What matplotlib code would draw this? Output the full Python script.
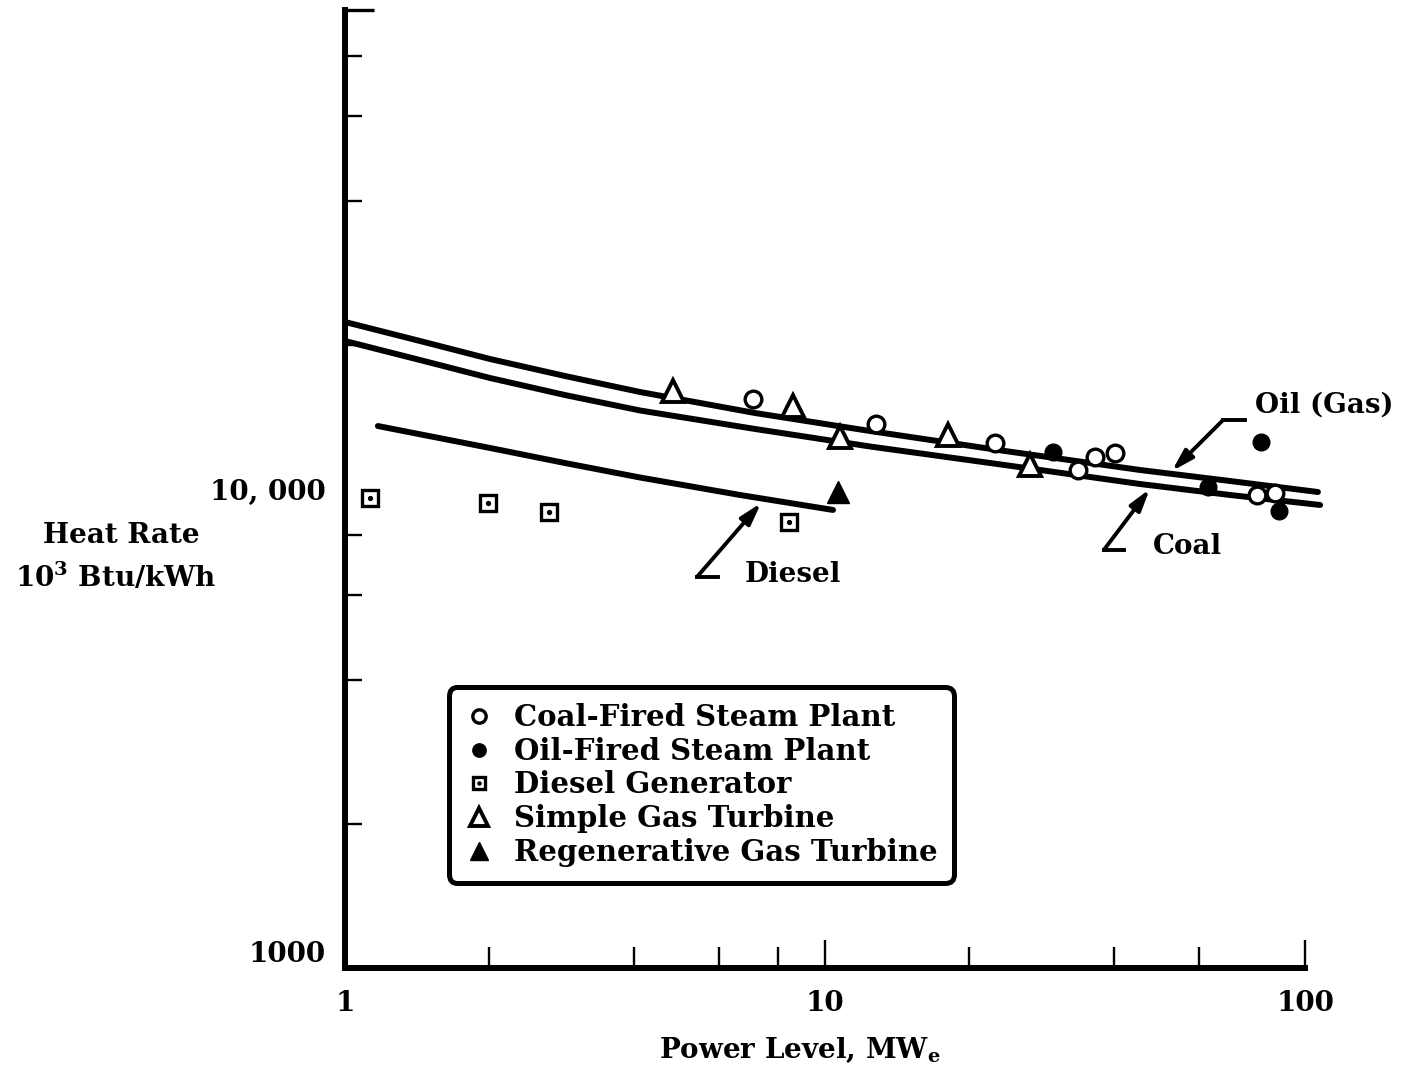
import matplotlib
matplotlib.use("Agg")
import matplotlib.pyplot as plt
from matplotlib.ticker import FixedLocator, FixedFormatter, NullFormatter

# ---------------- data ----------------
# fitted curves, MWe vs Btu/kWh
oil_curve_x = [1.0, 1.433, 2.005, 2.873, 4.118, 7.147, 12.41, 23.71, 45.32,
               69.8, 106.4]
oil_curve_y = [22320, 20370, 18680, 17215, 15940, 14410, 13215, 12005, 10957,
               10392, 9857]
coal_curve_x = [1.0, 1.433, 2.005, 2.873, 4.118, 7.147, 12.41, 23.71, 45.32,
                69.8, 107.5]
coal_curve_y = [20370, 18590, 17050, 15710, 14585, 13345, 12267, 11220, 10243,
                9716, 9261]
diesel_curve_x = [1.171, 2.005, 2.873, 4.118, 6.653, 10.39]
diesel_curve_y = [13535, 12180, 11330, 10568, 9716, 9042]

# plant data points
coal_plant_x = [7.08, 12.77, 22.6, 33.7, 36.5, 40.2, 79.4, 86.6]
coal_plant_y = [15410, 13670, 12470, 10960, 11660, 11890, 9716, 9808]
oil_plant_x = [29.9, 62.8, 81.0, 88.3]
oil_plant_y = [11946, 10097, 12535, 8995]
diesel_gen_x = [1.127, 1.986, 2.66, 8.41]
diesel_gen_y = [9576, 9350, 8955, 8535]
simple_gt_x = [4.83, 8.58, 10.75, 18.04, 26.7]
simple_gt_y = [16020, 14910, 12840, 12960, 11223]
regen_gt_x = [10.65]
regen_gt_y = [9856]

legend_labels = ["Coal-Fired Steam Plant", "Oil-Fired Steam Plant",
                 "Diesel Generator", "Simple Gas Turbine",
                 "Regenerative Gas Turbine"]

x_major = [1, 10, 100]
x_major_labels = ["1", "10", "100"]
x_minor = [2, 4, 6, 8, 20, 40, 60]
y_major = [1000, 10000]
y_major_labels = ["1000", "10, 000"]
y_minor = [2000, 4000, 6000, 8000, 20000, 40000, 60000, 80000, 100000]

# ---------------- figure ----------------
FONT = "DejaVu Serif"
plt.rcParams["font.family"] = FONT
plt.rcParams["font.weight"] = "bold"
plt.rcParams["mathtext.fontset"] = "custom"
plt.rcParams["mathtext.rm"] = "DejaVu Serif:bold"
plt.rcParams["mathtext.default"] = "rm"

fig = plt.figure(figsize=(14.2, 10.76), dpi=100)
ax = fig.add_axes([345 / 1420, 1 - 968 / 1076, 960 / 1420, 958 / 1076])
ax.set_xscale("log")
ax.set_yscale("log")
ax.set_xlim(1, 100)
ax.set_ylim(1000, 100000)

LW = 4.3
for cx, cy in [(oil_curve_x, oil_curve_y), (coal_curve_x, coal_curve_y),
               (diesel_curve_x, diesel_curve_y)]:
    ax.plot(cx, cy, color="black", lw=LW, solid_capstyle="round",
            solid_joinstyle="round", clip_on=False, zorder=2)

mk = dict(linestyle="none", clip_on=False, zorder=3)
h_coal, = ax.plot(coal_plant_x, coal_plant_y, marker="o", ms=12,
                  mfc="white", mec="black", mew=2.4, **mk)
h_oil, = ax.plot(oil_plant_x, oil_plant_y, marker="o", ms=12,
                 mfc="black", mec="black", **mk)
h_dsq, = ax.plot(diesel_gen_x, diesel_gen_y, marker="s", ms=11.5,
                 mfc="white", mec="black", mew=2.4, **mk)
h_ddot, = ax.plot(diesel_gen_x, diesel_gen_y, marker="o", ms=2.8,
                  mfc="black", mec="black", **mk)
h_sgt, = ax.plot(simple_gt_x, simple_gt_y, marker="^", ms=16,
                 mfc="white", mec="black", mew=2.8, **mk)
h_rgt, = ax.plot(regen_gt_x, regen_gt_y, marker="^", ms=16,
                 mfc="black", mec="black", **mk)

# ---------------- axes styling ----------------
for s in ["top", "right"]:
    ax.spines[s].set_visible(False)
for s in ["left", "bottom"]:
    ax.spines[s].set_linewidth(LW)
    ax.spines[s].set_capstyle("projecting")

ax.xaxis.set_major_locator(FixedLocator(x_major))
ax.xaxis.set_major_formatter(FixedFormatter(x_major_labels))
ax.xaxis.set_minor_locator(FixedLocator(x_minor))
ax.xaxis.set_minor_formatter(NullFormatter())
ax.yaxis.set_major_locator(FixedLocator(y_major))
ax.yaxis.set_major_formatter(FixedFormatter(y_major_labels))
ax.yaxis.set_minor_locator(FixedLocator(y_minor))
ax.yaxis.set_minor_formatter(NullFormatter())

ax.tick_params(axis="x", which="major", direction="in", length=20, width=1.7,
               pad=16, labelsize=20)
ax.tick_params(axis="x", which="minor", direction="in", length=15, width=1.7)
ax.tick_params(axis="y", which="major", direction="in", length=0, width=1.7,
               pad=14, labelsize=20)
ax.tick_params(axis="y", which="minor", direction="in", length=12, width=1.7)
fig.canvas.draw()
# longer cap tick at the top of the y axis
ax.yaxis.get_minor_ticks()[-1].tick1line.set_markersize(21)
ax.yaxis.get_minor_ticks()[-1].tick1line.set_markeredgewidth(2.4)
ax.get_yticklabels()[0].set_va("bottom")

# ---------------- axis titles ----------------
fig.text(800 / 1420, 1 - 1050 / 1076, r"Power Level, MW$_\mathregular{e}$",
         ha="center", va="center", fontsize=20)
fig.text(121 / 1420, 1 - 535 / 1076, "Heat Rate", ha="center", va="center",
         fontsize=20)
fig.text(116 / 1420, 1 - 577 / 1076, r"10$^\mathregular{3}$ Btu/kWh",
         ha="center", va="center", fontsize=20)

# ---------------- curve annotations ----------------
arrow = dict(arrowstyle="-|>,head_length=1.3,head_width=0.38", lw=2.8,
             color="black", shrinkA=0, shrinkB=0)
LLW = 2.8
# Oil (Gas)
ax.annotate("", xy=(52.8, 10900), xytext=(67.5, 13930), arrowprops=arrow)
ax.plot([67.5, 75.0], [13930, 13930], color="black", lw=LLW)
ax.text(78.7, 14980, "Oil (Gas)", fontsize=20, va="center", ha="left",
        clip_on=False)
# Coal
ax.annotate("", xy=(47.5, 10000), xytext=(38.1, 7460), arrowprops=arrow)
ax.plot([38.1, 42.0], [7460, 7460], color="black", lw=LLW)
ax.text(48.2, 7603, "Coal", fontsize=20, va="center", ha="left")
# Diesel
ax.annotate("", xy=(7.36, 9350), xytext=(5.41, 6551), arrowprops=arrow)
ax.plot([5.41, 5.98], [6551, 6551], color="black", lw=LLW)
ax.text(6.81, 6645, "Diesel", fontsize=20, va="center", ha="left")

# ---------------- legend ----------------
leg = ax.legend([h_coal, h_oil, (h_dsq, h_ddot), h_sgt, h_rgt], legend_labels,
                loc="lower left", bbox_to_anchor=(0.111, 0.092),
                borderaxespad=0, prop=dict(size=21, weight="bold"),
                markerscale=0.8, handlelength=1.0,
                handletextpad=0.7, labelspacing=0.16, borderpad=0.45,
                frameon=True, fancybox=True, framealpha=1)
frame = leg.get_frame()
frame.set_edgecolor("black")
frame.set_linewidth(3.6)
frame.set_boxstyle("round,pad=0.1,rounding_size=0.3")

fig.savefig("out.png", dpi=100, facecolor="white")
